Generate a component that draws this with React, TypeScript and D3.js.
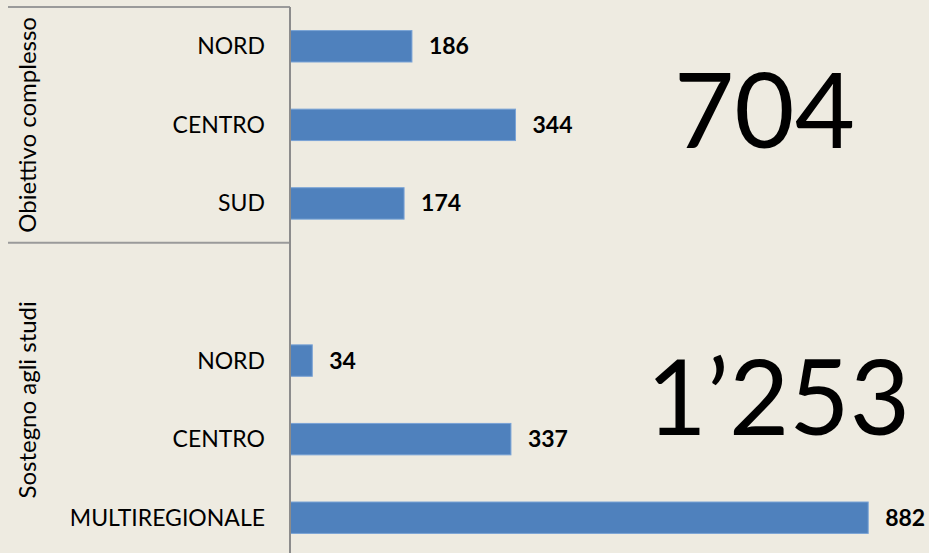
import React, { useEffect, useRef } from 'react';
import * as d3 from 'd3';

// chart data
const groups = ['Obiettivo complesso', 'Sostegno agli studi'];
const categories = ['NORD', 'CENTRO', 'SUD', '', 'NORD', 'CENTRO', 'MULTIREGIONALE'];
const groupIndex = [0, 0, 0, 1, 1, 1, 1];
const values: (number | null)[] = [186, 344, 174, null, 34, 337, 882];
const totals = ['704', '1’253'];

const W = 929;
const H = 553;
const FONT = 'Lato, "Open Sans", sans-serif';

const App = () => {
  const svgRef = useRef<SVGSVGElement>(null);

  useEffect(() => {
    const svg = d3.select(svgRef.current);
    svg.selectAll('*').remove();

    svg.append('rect').attr('width', W).attr('height', H).attr('fill', '#eeebe1');

    const axisX = 290;
    const keys = categories.map((c, i) => `${i}`);

    const y = d3.scaleBand<string>()
      .domain(keys)
      .range([7, 557])
      .paddingInner(0.6)
      .paddingOuter(0.3);

    const x = d3.scaleLinear()
      .domain([0, 900])
      .range([axisX, 880]);

    const g = svg.append('g');

    // bars
    g.selectAll('rect.bar')
      .data(values.map((v, i) => ({ v, i })).filter(d => d.v != null))
      .enter().append('rect')
      .attr('class', 'bar')
      .attr('x', x(0))
      .attr('y', d => y(`${d.i}`)!)
      .attr('width', d => x(d.v as number) - x(0))
      .attr('height', y.bandwidth())
      .attr('fill', '#4f81bd')
      .attr('stroke', '#7aa3d6')
      .attr('stroke-width', 1);

    // value labels
    g.selectAll('text.val')
      .data(values.map((v, i) => ({ v, i })).filter(d => d.v != null))
      .enter().append('text')
      .attr('class', 'val')
      .attr('x', d => x(d.v as number) + 17)
      .attr('y', d => y(`${d.i}`)! + y.bandwidth() / 2 + 8)
      .attr('font-family', FONT)
      .attr('font-weight', 'bold')
      .attr('font-size', 23)
      .attr('fill', '#000')
      .text(d => d.v as number);

    // category labels
    g.selectAll('text.cat')
      .data(categories.map((c, i) => ({ c, i })))
      .enter().append('text')
      .attr('class', 'cat')
      .attr('x', 265)
      .attr('y', d => y(`${d.i}`)! + y.bandwidth() / 2 + 8)
      .attr('text-anchor', 'end')
      .attr('font-family', FONT)
      .attr('font-size', 23)
      .attr('fill', '#000')
      .text(d => d.c);

    // group separators and group labels
    const half = (y.step() * y.paddingInner()) / 2;
    groups.forEach((name, gi) => {
      const idx = groupIndex.map((v, i) => (v === gi ? i : -1)).filter(i => i >= 0);
      const top = gi === 0 ? y.range()[0] : y(`${idx[0]}`)! - half;
      const last = idx[idx.length - 1];
      const bottom = last === keys.length - 1 ? y.range()[1] : y(`${last}`)! + y.bandwidth() + half;

      g.append('line')
        .attr('x1', 8).attr('x2', axisX)
        .attr('y1', top).attr('y2', top)
        .attr('stroke', '#9a9a9a')
        .attr('stroke-width', 2);

      const cy = (top + bottom) / 2;
      g.append('text')
        .attr('transform', `translate(36,${cy}) rotate(-90)`)
        .attr('text-anchor', 'middle')
        .attr('font-family', FONT)
        .attr('font-size', 24)
        .attr('fill', '#000')
        .text(name);
    });

    // vertical axis
    g.append('line')
      .attr('x1', axisX).attr('x2', axisX)
      .attr('y1', y.range()[0]).attr('y2', H)
      .attr('stroke', '#8c8c8c')
      .attr('stroke-width', 2);

    // big totals
    g.append('text')
      .attr('x', 855).attr('y', 148)
      .attr('text-anchor', 'end')
      .attr('font-family', FONT)
      .attr('font-size', 104)
      .attr('fill', '#000')
      .text(totals[0]);

    g.append('text')
      .attr('x', 910).attr('y', 435)
      .attr('text-anchor', 'end')
      .attr('font-family', FONT)
      .attr('font-size', 104)
      .attr('fill', '#000')
      .text(totals[1]);
  }, []);

  return (
    <svg
      ref={svgRef}
      width={W}
      height={H}
      style={{ position: 'absolute', left: 0, top: 0, display: 'block' }}
    />
  );
};

export default App;
